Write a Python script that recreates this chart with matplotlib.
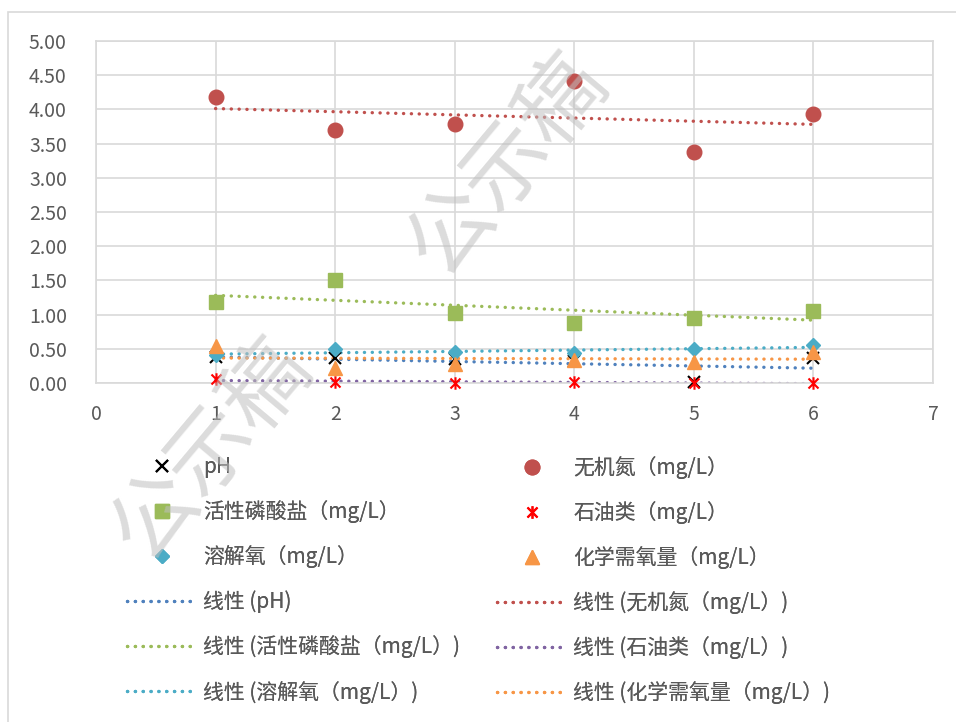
import numpy as np
import matplotlib
matplotlib.use("Agg")
import matplotlib.pyplot as plt
from matplotlib.path import Path
from matplotlib.patches import Rectangle

plt.rcParams['font.family'] = ['Noto Sans CJK SC', 'DejaVu Sans']

x = [1, 2, 3, 4, 5, 6]
ph = [0.38, 0.36, 0.35, 0.32, 0.02, 0.36]
din = [4.18, 3.70, 3.79, 4.41, 3.37, 3.93]
phosphate = [1.19, 1.51, 1.03, 0.87, 0.95, 1.05]
oil = [0.06, 0.01, 0.00, 0.01, 0.00, 0.00]
do = [0.41, 0.49, 0.45, 0.44, 0.49, 0.55]
cod = [0.54, 0.22, 0.28, 0.34, 0.31, 0.45]

names = ['pH', '无机氮（mg/L）', '活性磷酸盐（mg/L）', '石油类（mg/L）',
         '溶解氧（mg/L）', '化学需氧量（mg/L）']
series = [ph, din, phosphate, oil, do, cod]
marker_colors = ['#000000', '#C0504D', '#9BBB59', '#FF0000', '#4BACC6', '#F79646']
trend_colors = ['#4F81BD', '#C0504D', '#9BBB59', '#8064A2', '#4BACC6', '#F79646']
yticks = [0, 0.5, 1, 1.5, 2, 2.5, 3, 3.5, 4, 4.5, 5]
xticks = [0, 1, 2, 3, 4, 5, 6, 7]

star = Path([(-1, -1), (1, 1), (-1, 1), (1, -1), (0, -1.25), (0, 1.25)],
            [Path.MOVETO, Path.LINETO, Path.MOVETO, Path.LINETO, Path.MOVETO, Path.LINETO])
markers = ['x', 'o', 's', star, 'D', '^']
msizes = [9, 10.5, 10, 9, 7.5, 10]

fig = plt.figure(figsize=(9.56, 7.22), dpi=100)
fig.patches.append(Rectangle((8 / 956, -0.1), 1.2, 1.1 - 12 / 722, transform=fig.transFigure,
                             fill=False, edgecolor='#D9D9D9', linewidth=1.2, zorder=0))

ax = fig.add_axes([96 / 956, (722 - 383) / 722, (933 - 96) / 956, (383 - 41) / 722])
ax.set_xlim(0, 7)
ax.set_ylim(0, 5)
ax.set_xticks(xticks)
ax.set_yticks(yticks)
ax.set_yticklabels([f'{v:.2f}' for v in yticks])
ax.grid(True, color='#D9D9D9', linewidth=1.2)
ax.set_axisbelow(True)
for s in ax.spines.values():
    s.set_color('#D9D9D9')
    s.set_linewidth(1.2)
ax.tick_params(length=0, labelsize=14, colors='#595959')
ax.tick_params(axis='x', pad=15)
ax.tick_params(axis='y', pad=21)

marker_handles = []
trend_handles = []
xs = np.array(x, dtype=float)
for name, vals, m, ms, mc, tc in zip(names, series, markers, msizes, marker_colors, trend_colors):
    if m == 'x' or m is star:
        h, = ax.plot(x, vals, linestyle='none', marker=m, markersize=ms,
                     markerfacecolor='none', markeredgecolor=mc, markeredgewidth=1.5,
                     label=name, zorder=3, clip_on=False)
    else:
        h, = ax.plot(x, vals, linestyle='none', marker=m, markersize=ms,
                     markerfacecolor=mc, markeredgecolor=mc, label=name, zorder=3, clip_on=False)
    marker_handles.append(h)
    k, b = np.polyfit(xs, np.array(vals), 1)
    xx = np.array([1.0, 6.0])
    t, = ax.plot(xx, k * xx + b, color=tc, linewidth=2.4, linestyle=(0, (0.05, 2.3)),
                 dash_capstyle='round', label=f'线性 ({name})', zorder=2)
    trend_handles.append(t)

handles = marker_handles + trend_handles
fs = 15
em = fs * 100 / 72
for col, x0 in [(0, 127), (1, 497)]:
    hs = [handles[i] for i in range(col, 12, 2)]
    lg = fig.legend(hs, [h.get_label() for h in hs], ncol=1, loc='upper left',
                    bbox_to_anchor=(x0 / 956, 1 - 456 / 722),
                    frameon=False, fontsize=fs, labelcolor='#595959',
                    handlelength=70 / em, handletextpad=6 / em,
                    labelspacing=1.07, borderaxespad=0, borderpad=0)
    fig.add_artist(lg)

# watermark
for cx, cy in [(212, 450), (508, 165)]:
    fig.text(cx / 956, 1 - cy / 722, '公示稿', fontsize=62, color='#BFBFBF', alpha=0.55,
             rotation=50, rotation_mode='anchor', ha='center', va='center', zorder=10)

fig.savefig('out.png', dpi=100)
